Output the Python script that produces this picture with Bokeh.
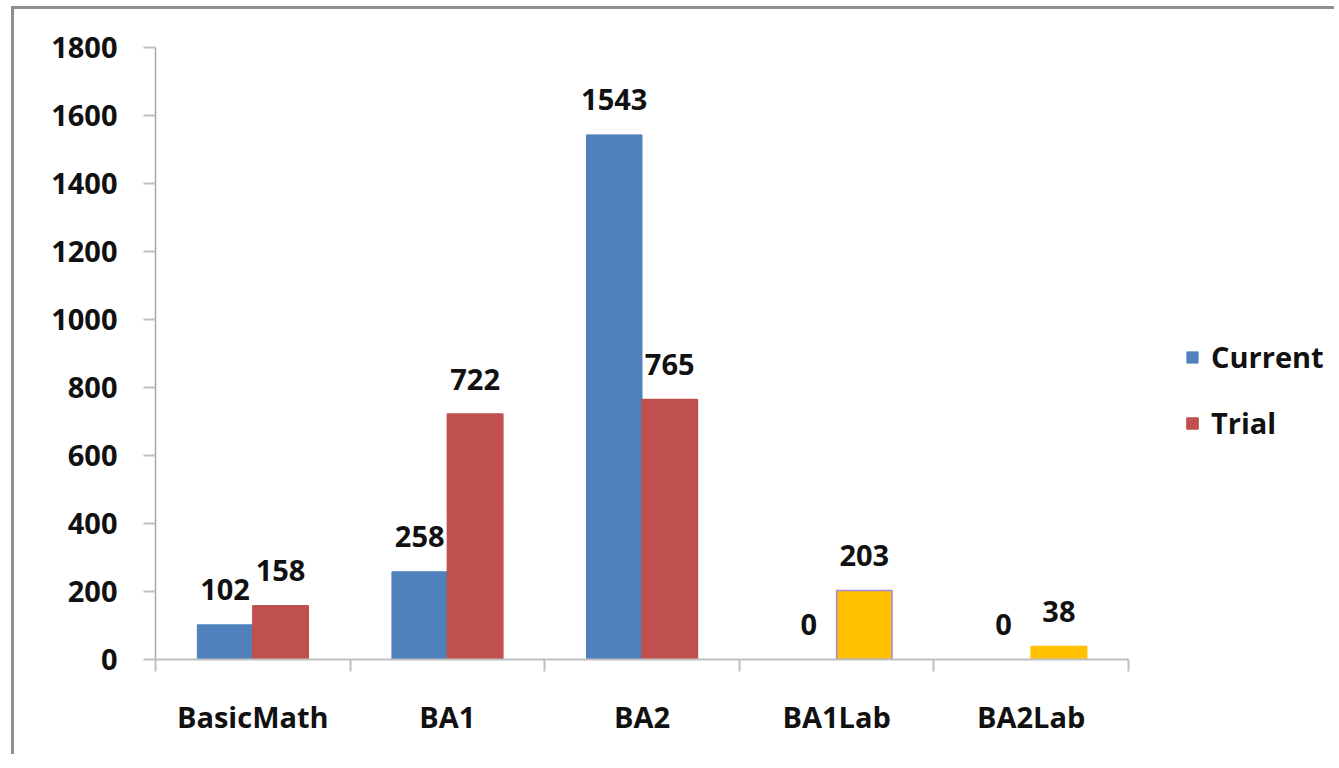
from bokeh.plotting import figure
from bokeh.models import (ColumnDataSource, Range1d, FixedTicker, LinearAxis,
                          Legend, LegendItem)
from bokeh.core.properties import value
from bokeh.embed import file_html
from bokeh.resources import INLINE

categories = ["BasicMath", "BA1", "BA2", "BA1Lab", "BA2Lab"]
current = [102, 258, 1543, 0, 0]
trial = [158, 722, 765, 203, 38]
trial_colors = ["#C0504D", "#C0504D", "#C0504D", "#FFC000", "#FFC000"]
trial_line_colors = ["#C0504D", "#C0504D", "#C0504D", "#A58AD8", "#FFC000"]
y_ticks = [0, 200, 400, 600, 800, 1000, 1200, 1400, 1600, 1800]

FONT_NAME = "Open Sans"
FONT = value(FONT_NAME)
FS = "29px"
BAR_W = 0.285

W, H = 1323, 748
LEFT, TOP, BOTTOM = 141, 38, 98
PLOT_W = 973                      # width of the category area in px
FRAME_W = W - LEFT                # frame runs to the right edge (legend lives inside)
N = len(categories)
X_END = N * FRAME_W / PLOT_W

idx = list(range(N))
cur_x = [i + 0.5 - BAR_W / 2 for i in idx]
tri_x = [i + 0.5 + BAR_W / 2 for i in idx]

src_cur = ColumnDataSource(dict(x=cur_x, top=current, lab=[str(v) for v in current]))
src_tri = ColumnDataSource(dict(x=tri_x, top=trial, lab=[str(v) for v in trial],
                                fill=trial_colors, line=trial_line_colors))

p = figure(width=W, height=H, output_backend="svg", toolbar_location=None,
           x_range=Range1d(0, X_END), y_range=Range1d(0, 1800),
           x_axis_type=None, y_axis_type=None,
           min_border_left=LEFT, min_border_right=0, min_border_top=TOP,
           min_border_bottom=BOTTOM)
p.outline_line_color = None
p.background_fill_color = "white"
p.border_fill_color = "white"
p.styles = {"border-top": "3px solid #8f8f8f", "border-left": "3px solid #8f8f8f",
            "margin-left": "11px", "margin-top": "6px"}

# y axis
yax = LinearAxis(ticker=FixedTicker(ticks=y_ticks, minor_ticks=[]))
yax.axis_line_color = "#a6a6a6"
yax.axis_line_width = 1.5
yax.major_tick_line_color = "#bfbfbf"
yax.major_tick_line_width = 2
yax.major_tick_out = 12
yax.major_tick_in = 0
yax.minor_tick_line_color = None
yax.major_label_standoff = 26
yax.major_label_text_font = FONT_NAME
yax.major_label_text_font_style = "bold"
yax.major_label_text_font_size = FS
yax.major_label_text_color = "#111111"
p.add_layout(yax, "left")

# x axis
xax = LinearAxis(ticker=FixedTicker(ticks=[i + 0.5 for i in idx],
                                    minor_ticks=list(range(N + 1))),
                 bounds=(0, N))
xax.major_label_overrides = {i + 0.5: c for i, c in zip(idx, categories)}
xax.axis_line_color = "#bfbfbf"
xax.axis_line_width = 2
xax.major_tick_line_color = None
xax.major_tick_out = 0
xax.major_tick_in = 0
xax.minor_tick_line_color = "#bfbfbf"
xax.minor_tick_line_width = 2
xax.minor_tick_out = 12
xax.minor_tick_in = 0
xax.major_label_standoff = 25
xax.major_label_text_font = FONT_NAME
xax.major_label_text_font_style = "bold"
xax.major_label_text_font_size = FS
xax.major_label_text_color = "#111111"
p.add_layout(xax, "below")

p.ygrid.ticker = FixedTicker(ticks=y_ticks)
p.ygrid.grid_line_color = "#bfbfbf"
p.ygrid.grid_line_width = 2
p.ygrid.bounds = (0, N)
p.xgrid.grid_line_color = None

r_cur = p.vbar(x="x", top="top", bottom=0, width=BAR_W, source=src_cur,
               fill_color="#4F81BD", line_color="#4F81BD")
r_tri = p.vbar(x="x", top="top", bottom=0, width=BAR_W, source=src_tri,
               fill_color="fill", line_color="line", line_width=1.5)

for s in (src_cur, src_tri):
    p.text(x="x", y="top", text="lab", source=s, text_font=FONT,
           text_font_style="bold", text_font_size=FS, text_color="#111111",
           text_align="center", text_baseline="alphabetic", y_offset=-35)

legend = Legend(items=[LegendItem(label="Current", renderers=[r_cur], index=0),
                       LegendItem(label="Trial", renderers=[r_tri], index=0)],
                location=(1030, 217))
legend.border_line_color = None
legend.background_fill_alpha = 0
legend.label_text_font = FONT_NAME
legend.label_text_font_style = "bold"
legend.label_text_font_size = FS
legend.label_text_color = "#111111"
legend.glyph_width = 14
legend.glyph_height = 14
legend.label_standoff = 12
legend.label_height = 30
legend.spacing = 27
legend.padding = 0
legend.margin = 0
p.add_layout(legend, "center")

open("out.html", "w").write(file_html(p, INLINE))
